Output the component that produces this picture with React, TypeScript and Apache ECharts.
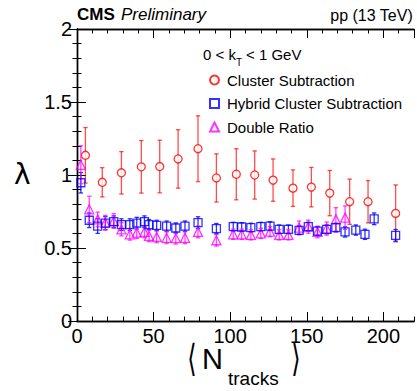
import React, { useEffect, useRef } from "react";
import * as echarts from "echarts";

const xTickLabels = ["0", "50", "100", "150", "200"];
const yTickLabels = ["0", "0.5", "1", "1.5", "2"];

const clusterX = [5.5, 16.5, 29, 42, 54, 66, 79, 91, 104, 116, 128, 141, 153, 165, 178, 190, 208];
const clusterY = [1.135, 0.95, 1.015, 1.056, 1.058, 1.11, 1.18, 0.98, 1.005, 1.0, 0.965, 0.91, 0.917, 0.876, 0.817, 0.817, 0.737];
const clusterErr = [0.19, 0.1, 0.145, 0.18, 0.18, 0.2, 0.225, 0.165, 0.175, 0.165, 0.145, 0.125, 0.135, 0.155, 0.155, 0.145, 0.195];

const hybridX = [2.5, 8, 13.5, 18.5, 24, 29, 34.5, 39, 44, 47, 52, 58.5, 64.5, 70.5, 79, 91, 102, 107.5, 113.5, 120, 126, 132, 138, 145, 151, 157, 163, 169, 175, 182, 188, 194, 208];
const hybridY = [0.947, 0.69, 0.65, 0.67, 0.68, 0.66, 0.66, 0.67, 0.68, 0.66, 0.655, 0.65, 0.637, 0.65, 0.674, 0.633, 0.646, 0.644, 0.64, 0.646, 0.65, 0.628, 0.628, 0.621, 0.646, 0.616, 0.628, 0.64, 0.61, 0.623, 0.594, 0.7, 0.587];
const hybridErr = [0.07, 0.05, 0.05, 0.045, 0.04, 0.04, 0.04, 0.04, 0.04, 0.035, 0.035, 0.035, 0.035, 0.035, 0.04, 0.035, 0.03, 0.03, 0.03, 0.03, 0.03, 0.03, 0.03, 0.03, 0.03, 0.03, 0.03, 0.03, 0.035, 0.035, 0.035, 0.04, 0.04];

const doubleX = [2.5, 8, 13.5, 18.5, 24, 29, 34.5, 39, 44, 47, 52, 58.5, 64.5, 70.5, 79, 91, 102, 107.5, 113.5, 120, 126, 132, 138, 145, 151, 157, 163, 169, 175];
const doubleY = [1.07, 0.765, 0.696, 0.674, 0.685, 0.628, 0.594, 0.605, 0.61, 0.583, 0.576, 0.57, 0.567, 0.57, 0.61, 0.553, 0.594, 0.594, 0.59, 0.6, 0.612, 0.59, 0.59, 0.64, 0.646, 0.61, 0.633, 0.696, 0.708];
const doubleErr = [0.13, 0.09, 0.05, 0.05, 0.05, 0.045, 0.04, 0.04, 0.04, 0.04, 0.04, 0.04, 0.04, 0.04, 0.04, 0.04, 0.035, 0.035, 0.035, 0.035, 0.035, 0.035, 0.035, 0.045, 0.045, 0.04, 0.045, 0.08, 0.08];

const FONT = '"Liberation Sans", Arial, Helvetica, sans-serif';
const RED = "#ff0000";
const BLUE = "#0000ff";
const MAGENTA = "#ff00ff";

function pts(xs: number[], ys: number[]) {
  return xs.map((x, i) => [x, ys[i]]);
}
function errs(xs: number[], ys: number[], es: number[]) {
  return xs.map((x, i) => [x, ys[i] - es[i], ys[i] + es[i]]);
}

function errorSeries(name: string, data: number[][], color: string) {
  return {
    type: "custom",
    name,
    xAxisIndex: 0,
    yAxisIndex: 0,
    z: 2,
    encode: { x: 0, y: [1, 2] },
    data,
    renderItem: (params: any, api: any) => {
      const x = api.value(0);
      const p1 = api.coord([x, api.value(1)]);
      const p2 = api.coord([x, api.value(2)]);
      const w = 2.2;
      const st = { stroke: color, lineWidth: 1.3 };
      return {
        type: "group",
        children: [
          { type: "line", shape: { x1: p1[0], y1: p1[1], x2: p2[0], y2: p2[1] }, style: st },
          { type: "line", shape: { x1: p1[0] - w, y1: p1[1], x2: p1[0] + w, y2: p1[1] }, style: st },
          { type: "line", shape: { x1: p2[0] - w, y1: p2[1], x2: p2[0] + w, y2: p2[1] }, style: st },
        ],
      };
    },
  };
}

export default function App() {
  const ref = useRef<HTMLDivElement>(null);
  useEffect(() => {
    if (!ref.current) return;
    const chart = echarts.init(ref.current, null, { renderer: "svg" });
    const axisLine = { show: true, lineStyle: { color: "#000", width: 1.4 } };
    const xBase = { type: "value", min: 0, max: 220, splitLine: { show: false }, axisLine };
    const option: any = {
      animation: false,
      backgroundColor: "#fff",
      grid: { left: 77, right: 3, top: 29, bottom: 70, containLabel: false },
      xAxis: [
        {
          ...xBase,
          position: "bottom",
          interval: 50,
          axisTick: { inside: true, length: 9, lineStyle: { color: "#000", width: 1 } },
          axisLabel: {
            showMaxLabel: false,
            margin: 6,
            lineHeight: 18,
            fontFamily: FONT,
            fontSize: 20,
            color: "#000",
            formatter: (v: number) => xTickLabels[Math.round(v / 50)] ?? "",
          },
        },
        {
          ...xBase,
          position: "bottom",
          interval: 10,
          axisTick: { inside: true, length: 4.5, lineStyle: { color: "#000", width: 1 } },
          axisLabel: { show: false },
        },
        {
          ...xBase,
          position: "top",
          interval: 50,
          axisTick: { inside: true, length: 9, lineStyle: { color: "#000", width: 1 } },
          axisLabel: { show: false },
        },
        {
          ...xBase,
          position: "top",
          interval: 10,
          axisTick: { inside: true, length: 4.5, lineStyle: { color: "#000", width: 1 } },
          axisLabel: { show: false },
        },
      ],
      yAxis: [
        {
          type: "value",
          min: 0,
          max: 2,
          interval: 0.5,
          position: "left",
          splitLine: { show: false },
          axisLine,
          axisTick: { inside: true, length: 9, lineStyle: { color: "#000", width: 1 } },
          minorTick: { show: true, splitNumber: 5, length: 4.5, lineStyle: { color: "#000", width: 1 } },
          axisLabel: {
            margin: 5,
            fontFamily: FONT,
            fontSize: 20,
            color: "#000",
            formatter: (v: number) => yTickLabels[Math.round(v / 0.5)] ?? "",
          },
        },
        {
          type: "value",
          min: 0,
          max: 2,
          interval: 0.5,
          position: "right",
          splitLine: { show: false },
          axisLine,
          axisTick: { inside: true, length: 9, lineStyle: { color: "#000", width: 1 } },
          minorTick: { show: true, splitNumber: 5, length: 4.5, lineStyle: { color: "#000", width: 1 } },
          axisLabel: { show: false },
        },
      ],
      legend: {
        orient: "vertical",
        left: 209,
        top: 72,
        padding: 0,
        itemWidth: 9,
        itemHeight: 9,
        itemGap: 7.5,
        data: ["Cluster Subtraction", "Hybrid Cluster Subtraction", "Double Ratio"],
        textStyle: { fontFamily: FONT, fontSize: 15, color: "#000", lineHeight: 16, padding: [0, 0, 0, 3] },
      },
      graphic: [
        { type: "text", left: 77, top: 6, style: { text: "CMS", font: `bold 17px ${FONT}`, fill: "#000" } },
        { type: "text", left: 121, top: 6, style: { text: "Preliminary", font: `italic 17px ${FONT}`, fill: "#000" } },
        { type: "text", right: 4, top: 7, style: { text: "pp (13 TeV)", font: `16px ${FONT}`, fill: "#000" } },
        { type: "text", left: 203, top: 47, style: { text: "0 < k", font: `15px ${FONT}`, fill: "#000" } },
        { type: "text", left: 236, top: 57, style: { text: "T", font: `10px ${FONT}`, fill: "#000" } },
        { type: "text", left: 246, top: 47, style: { text: "< 1 GeV", font: `15px ${FONT}`, fill: "#000" } },
        { type: "text", left: 14, top: 160, style: { text: "λ", font: `28px "DejaVu Sans", ${FONT}`, fill: "#000" } },
        {
          type: "text",
          x: 192,
          y: 358,
          scaleY: 1.55,
          style: { text: "⟨", font: `24px "DejaVu Sans", ${FONT}`, fill: "#000", align: "center", verticalAlign: "middle" },
        },
        {
          type: "text",
          x: 202,
          y: 359,
          style: { text: "N", font: `29px ${FONT}`, lineHeight: 20, fill: "#000", align: "left", verticalAlign: "middle" },
        },
        { type: "text", left: 228, top: 369, style: { text: "tracks", font: `19px ${FONT}`, fill: "#000" } },
        {
          type: "text",
          x: 296,
          y: 358,
          scaleY: 1.55,
          style: { text: "⟩", font: `24px "DejaVu Sans", ${FONT}`, fill: "#000", align: "center", verticalAlign: "middle" },
        },
      ],
      series: [
        errorSeries("err-cluster", errs(clusterX, clusterY, clusterErr), "rgba(255,0,0,0.7)"),
        errorSeries("err-hybrid", errs(hybridX, hybridY, hybridErr), "rgba(0,0,255,0.8)"),
        errorSeries("err-double", errs(doubleX, doubleY, doubleErr), "rgba(255,0,255,0.75)"),
        {
          type: "scatter",
          name: "Cluster Subtraction",
          z: 5,
          symbol: "circle",
          symbolSize: 8,
          itemStyle: { color: "#fff", borderColor: RED, borderWidth: 1.3 },
          data: pts(clusterX, clusterY),
        },
        {
          type: "scatter",
          name: "Hybrid Cluster Subtraction",
          z: 4,
          symbol: "rect",
          symbolSize: 8,
          itemStyle: { color: "rgba(255,255,255,0)", borderColor: BLUE, borderWidth: 1.3 },
          data: pts(hybridX, hybridY),
        },
        {
          type: "scatter",
          name: "Double Ratio",
          z: 3,
          symbol: "triangle",
          symbolSize: 9,
          itemStyle: { color: "rgba(255,255,255,0)", borderColor: MAGENTA, borderWidth: 1.3 },
          data: pts(doubleX, doubleY),
        },
      ],
    };
    chart.setOption(option);
    return () => chart.dispose();
  }, []);
  return <div ref={ref} style={{ width: 417, height: 391, position: "absolute", left: 0, top: 0 }} />;
}
